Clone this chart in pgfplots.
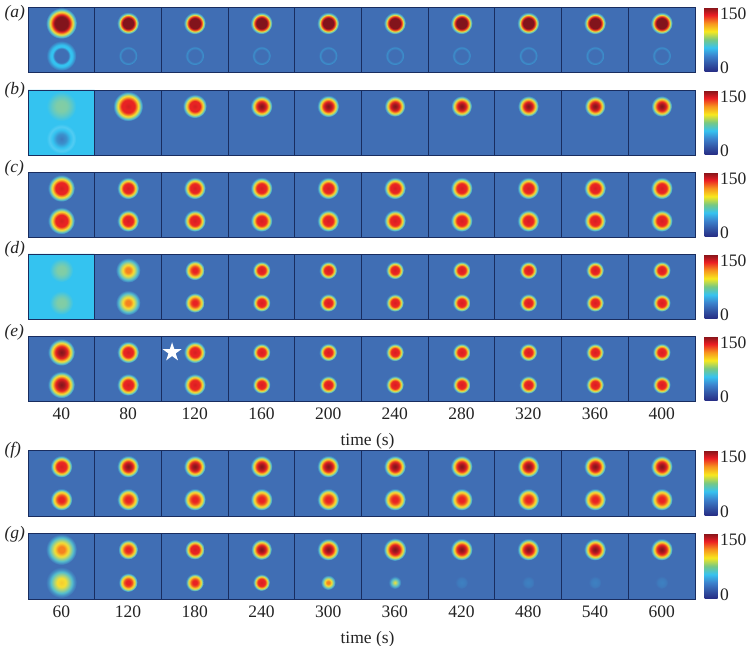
\documentclass[border=0pt]{standalone}
\usepackage{fontspec}
\setmainfont{Liberation Serif}
\usepackage{pgfplots}
\pgfplotsset{compat=1.18}

\definecolor{bgc}{RGB}{64,110,180}
\definecolor{cyb}{RGB}{52,195,240}
\definecolor{blu}{RGB}{68,140,195}
\definecolor{cya}{RGB}{85,190,205}
\definecolor{grn}{RGB}{165,210,130}
\definecolor{yel}{RGB}{246,222,50}
\definecolor{org}{RGB}{245,130,32}
\definecolor{rdd}{RGB}{232,35,35}
\definecolor{drk}{RGB}{130,20,28}
\definecolor{edge}{RGB}{25,45,95}
\definecolor{txt}{RGB}{35,35,35}

% one radial shading + plot mark per blob type, 25bp = mark radius
\newcommand\blobshade[2]{%
  \pgfdeclareradialshading{jet#1}{\pgfpointorigin}{#2}%
  \pgfdeclareplotmark{blob#1}{\pgfpathcircle{\pgfpointorigin}{\pgfplotmarksize}\pgfshadepath{jet#1}{0}\pgfusepath{discard}}}

\blobshade{W}{color(0bp)=(drk); color(11bp)=(drk); color(14bp)=(rdd); color(16bp)=(org); color(18bp)=(yel); color(20bp)=(grn); color(22bp)=(cya); color(24bp)=(blu); color(25bp)=(bgc); color(50bp)=(bgc)}
\blobshade{D}{color(0bp)=(drk); color(12bp)=(drk); color(15bp)=(rdd); color(17bp)=(org); color(18.5bp)=(yel); color(20bp)=(grn); color(22bp)=(cya); color(24bp)=(blu); color(25bp)=(bgc); color(50bp)=(bgc)}
\blobshade{K}{color(0bp)=(drk); color(6bp)=(drk!65!rdd); color(11bp)=(rdd); color(14bp)=(org); color(17bp)=(yel); color(19.5bp)=(grn); color(21.5bp)=(cya); color(23.5bp)=(blu); color(25bp)=(bgc); color(50bp)=(bgc)}
\blobshade{R}{color(0bp)=(drk!20!rdd); color(7bp)=(rdd); color(11bp)=(rdd); color(14bp)=(org); color(17bp)=(yel); color(19.5bp)=(grn); color(21.5bp)=(cya); color(23.5bp)=(blu); color(25bp)=(bgc); color(50bp)=(bgc)}
\blobshade{F}{color(0bp)=(rdd); color(6bp)=(rdd); color(11bp)=(rdd!40!org); color(14bp)=(org!50!yel); color(17bp)=(yel); color(19.5bp)=(grn); color(21.5bp)=(cya); color(23.5bp)=(blu); color(25bp)=(bgc); color(50bp)=(bgc)}
\blobshade{O}{color(0bp)=(org); color(5bp)=(org); color(11bp)=(yel); color(15bp)=(grn); color(19bp)=(cya); color(22.5bp)=(blu); color(25bp)=(bgc); color(50bp)=(bgc)}
\blobshade{Y}{color(0bp)=(yel!80!org); color(7bp)=(yel); color(12bp)=(grn); color(17bp)=(cya); color(21bp)=(blu); color(25bp)=(bgc); color(50bp)=(bgc)}
\blobshade{G}{color(0bp)=(yel); color(7bp)=(grn); color(14bp)=(cya); color(20bp)=(blu); color(25bp)=(bgc); color(50bp)=(bgc)}
\blobshade{A}{color(0bp)=(bgc); color(11.5bp)=(bgc); color(15bp)=(cyb); color(18bp)=(cyb); color(21.5bp)=(cyb!50!bgc); color(25bp)=(bgc); color(50bp)=(bgc)}
\blobshade{T}{color(0bp)=(bgc); color(17bp)=(bgc); color(21bp)=(cyb!45!bgc); color(25bp)=(bgc); color(50bp)=(bgc)}
\blobshade{P}{color(0bp)=(cyb!22!bgc); color(15bp)=(cyb!15!bgc); color(25bp)=(bgc); color(50bp)=(bgc)}
\blobshade{H}{color(0bp)=(grn!70!cyb); color(9bp)=(grn!65!cyb); color(16bp)=(grn!40!cyb); color(22bp)=(grn!12!cyb); color(25bp)=(cyb); color(50bp)=(cyb)}
\blobshade{L}{color(0bp)=(bgc!85!cyb); color(8bp)=(bgc!60!cyb); color(15bp)=(cyb); color(20bp)=(cyb!85!white); color(25bp)=(cyb); color(50bp)=(cyb)}

% white star for the marked panel
\pgfdeclareplotmark{wstar}{%
  \pgfpathmoveto{\pgfqpointpolar{90}{\pgfplotmarksize}}%
  \foreach \a/\r in {126/0.38,162/1,198/0.38,234/1,270/0.38,306/1,342/0.38,18/1,54/0.38}{%
    \pgfpathlineto{\pgfqpointpolar{\a}{\r\pgfplotmarksize}}}%
  \pgfpathclose\pgfusepathqfill}

\pgfplotsset{
  blob/.style={only marks, scatter, scatter src=y, mark=blob#1,
    visualization depends on={\thisrow{r}\as\rr},
    scatter/@pre marker code/.append style={/tikz/mark size=\rr}},
  panel/.style={
    scale only axis, width=667pt, height=65pt,
    anchor=south west, xmin=0.5, xmax=10.5, ymin=0, ymax=1,
    axis background/.style={fill=bgc}, axis on top,
    axis line style={edge, line width=0.7pt},
    xtick={1,...,10}, ytick=\empty, xticklabels={},
    minor xtick={1.5,2.5,...,9.5}, xminorgrids,
    minor grid style={edge, line width=0.9pt},
    major tick length=0pt, minor tick length=0pt,
    tick label style={font=\fontsize{17.5}{20}\selectfont, text=txt},
    xticklabel style={yshift=-3.5pt},
    xlabel style={font=\fontsize{17.5}{20}\selectfont, text=txt, xshift=6pt, yshift=-6.5pt},
    colormap={mapjet}{rgb255=(38,42,130) rgb255=(50,85,165) rgb255=(60,130,205) rgb255=(55,195,240) rgb255=(120,200,130) rgb255=(248,232,30) rgb255=(247,148,30) rgb255=(235,30,36) rgb255=(125,20,25)},
    point meta min=-11, point meta max=169,
    colorbar,
    colorbar style={
      at={(parent axis.north east)}, anchor=north west, xshift=1pt,
      width=13pt, ytick={0,150}, yticklabels={0,150},
      major tick length=0pt, axis line style={draw=none},
      yticklabel style={font=\fontsize{17.5}{20}\selectfont, text=txt, xshift=-1pt},
    },
  },
}

\begin{document}
\begin{tikzpicture}
\path[use as bounding box] (0pt,0pt) rectangle (748pt,646pt);
\tikzset{lab/.style={anchor=base west, text=txt, font=\fontsize{17.5}{20}\selectfont\itshape}}

% (a)
\begin{axis}[panel, at={(28pt,574pt)}]
\addplot[blob=W] table {
x y r
1 0.75 15.5
};
\addplot[blob=D] table {
x y r
2 0.75 11
3 0.75 11
4 0.75 11
5 0.75 11
6 0.75 11
7 0.75 11
8 0.75 11
9 0.75 11
10 0.75 11
};
\addplot[blob=A] table {
x y r
1 0.25 15
};
\addplot[blob=T] table {
x y r
2 0.25 9.5
3 0.25 9.5
4 0.25 9.5
5 0.25 9.5
6 0.25 9.5
7 0.25 9.5
8 0.25 9.5
9 0.25 9.5
10 0.25 9.5
};
\end{axis}

% (b)
\begin{axis}[panel, at={(28pt,491pt)}]
\addplot[fill=cyb, draw=none] coordinates {(0.5,0) (1.5,0) (1.5,1) (0.5,1)} \closedcycle;
\addplot[blob=H] table {
x y r
1 0.75 15
};
\addplot[blob=L] table {
x y r
1 0.25 15
};
\addplot[blob=R] table {
x y r
2 0.75 15
3 0.75 12
};
\addplot[blob=K] table {
x y r
4 0.75 11
5 0.75 11
6 0.75 10.5
7 0.75 10.5
8 0.75 10.5
9 0.75 10.5
10 0.75 10.5
};
\end{axis}

% (c)
\begin{axis}[panel, at={(28pt,409pt)}]
\addplot[blob=R] table {
x y r
1 0.75 13.5
1 0.25 13.5
2 0.75 11
2 0.25 11
3 0.75 11
3 0.25 11
4 0.75 11
4 0.25 11
5 0.75 11
5 0.25 11
6 0.75 11
6 0.25 11
7 0.75 11
7 0.25 11
8 0.75 11
8 0.25 11
9 0.75 11
9 0.25 11
10 0.75 11
10 0.25 11
};
\end{axis}

% (d)
\begin{axis}[panel, at={(28pt,327pt)}]
\addplot[fill=cyb, draw=none] coordinates {(0.5,0) (1.5,0) (1.5,1) (0.5,1)} \closedcycle;
\addplot[blob=H] table {
x y r
1 0.75 12
1 0.25 12
};
\addplot[blob=O] table {
x y r
2 0.75 12.5
2 0.25 12.5
};
\addplot[blob=F] table {
x y r
3 0.75 10
3 0.25 10
};
\addplot[blob=R] table {
x y r
4 0.75 9
4 0.25 9
5 0.75 9
5 0.25 9
6 0.75 9
6 0.25 9
7 0.75 9
7 0.25 9
8 0.75 9
8 0.25 9
9 0.75 9
9 0.25 9
10 0.75 9
10 0.25 9
};
\end{axis}

% (e)
\begin{axis}[panel, at={(28pt,245pt)}, clip=false,
  xticklabels={40,80,120,160,200,240,280,320,360,400}, xlabel={time (s)}]
\addplot[blob=K] table {
x y r
1 0.75 13.5
1 0.25 13.5
};
\addplot[blob=R] table {
x y r
2 0.75 11
2 0.25 11
3 0.75 11
3 0.25 11
4 0.75 9
4 0.25 9
5 0.75 9
5 0.25 9
6 0.75 9
6 0.25 9
7 0.75 9
7 0.25 9
8 0.75 9
8 0.25 9
9 0.75 9
9 0.25 9
10 0.75 9
10 0.25 9
};
\addplot[only marks, mark=wstar, mark size=10pt, white] coordinates {(2.66,0.75)};
\end{axis}

% (f)
\begin{axis}[panel, at={(28pt,130pt)}, height=66pt]
\addplot[blob=K] table {
x y r
2 0.75 11
3 0.75 11
4 0.75 11
5 0.75 11
6 0.75 11
7 0.75 11
8 0.75 11
9 0.75 11
10 0.75 11
};
\addplot[blob=R] table {
x y r
1 0.75 11
};
\addplot[blob=F] table {
x y r
1 0.25 11
2 0.25 11
3 0.25 11
4 0.25 11
5 0.25 11
6 0.25 11
7 0.25 11
8 0.25 11
9 0.25 11
10 0.25 11
};
\end{axis}

% (g)
\begin{axis}[panel, at={(28pt,47pt)}, height=66pt,
  xticklabels={60,120,180,240,300,360,420,480,540,600}, xlabel={time (s)}]
\addplot[blob=O] table {
x y r
1 0.75 15.5
};
\addplot[blob=Y] table {
x y r
1 0.25 15.5
};
\addplot[blob=F] table {
x y r
2 0.75 10
2 0.25 9.5
3 0.25 9
};
\addplot[blob=R] table {
x y r
3 0.75 10
4 0.25 8.5
};
\addplot[blob=K] table {
x y r
4 0.75 10.5
5 0.75 11
6 0.75 11.5
7 0.75 11
8 0.75 11
9 0.75 11
10 0.75 11
};
\addplot[blob=O] table {
x y r
5 0.25 7.5
};
\addplot[blob=G] table {
x y r
6 0.25 6.5
};
\addplot[blob=P] table {
x y r
7 0.25 6.5
8 0.25 6.5
9 0.25 6.5
10 0.25 6.5
};
\end{axis}

\node[lab] at (1pt,628pt) {(a)};
\node[lab] at (1pt,551pt) {(b)};
\node[lab] at (1pt,473pt) {(c)};
\node[lab] at (1pt,392pt) {(d)};
\node[lab] at (1pt,309pt) {(e)};
\node[lab] at (1pt,191pt) {(f)};
\node[lab] at (1pt,107pt) {(g)};
\end{tikzpicture}
\end{document}
